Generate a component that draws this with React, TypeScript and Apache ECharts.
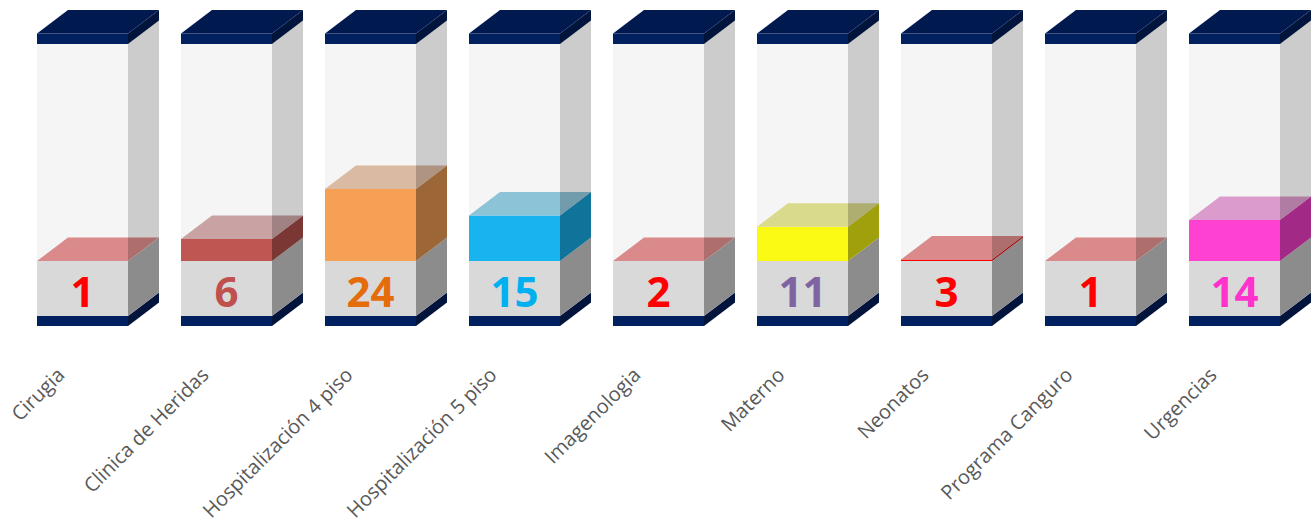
import React, { useEffect, useRef } from "react";
import * as echarts from "echarts";

const categories = [
  "Cirugia",
  "Clinica de Heridas",
  "Hospitalización 4 piso",
  "Hospitalización 5 piso",
  "Imagenologia",
  "Materno",
  "Neonatos",
  "Programa Canguro",
  "Urgencias",
];
const counts = [1, 6, 24, 15, 2, 11, 3, 1, 14];
const fillLevels = [0, 7.3, 24, 15.2, 0, 11.4, 0.5, 0, 13.7];
const capacity = 72.33;

const labelColors = ["#FF0000", "#C0504D", "#E46C0A", "#00B0F0", "#FF0000", "#8064A2", "#FF0000", "#FF0000", "#FF33CC"];
const fillFront = ["#D98A8A", "#C05652", "#F5A055", "#19B4F0", "#D98A8A", "#FAFA14", "#FF0000", "#D98A8A", "#FF41D2"];
const fillTop = ["#DA8A8A", "#C9A3A3", "#DABAA2", "#8CC3D7", "#DA8A8A", "#DADA8C", "#DA8A8A", "#DA8A8A", "#DC9BCD"];

function darken(hex: string, f: number) {
  const n = parseInt(hex.slice(1), 16);
  const r = Math.round(((n >> 16) & 255) * f);
  const g = Math.round(((n >> 8) & 255) * f);
  const b = Math.round((n & 255) * f);
  return `rgb(${r},${g},${b})`;
}

export default function App() {
  const ref = useRef<HTMLDivElement>(null);
  useEffect(() => {
    document.body.style.margin = "0";
    const chart = echarts.init(ref.current!, undefined, { renderer: "svg" });
    const W = 91, DX = 31, DY = 23.5, BOX = 55, BAND = 10, CAP = 10.5;
    const data = categories.map((c, i) => [i, fillLevels[i], counts[i]]);
    const renderItem = (params: any, api: any) => {
      const i = api.value(0);
      const fill = api.value(1);
      const cnt = api.value(2);
      const p0 = api.coord([i, 0]);
      const cx = p0[0];
      const y0 = p0[1];
      const yF = api.coord([i, fill])[1];
      const yT = api.coord([i, capacity])[1];
      const x0 = cx - W / 2;
      const x1 = cx + W / 2;
      const side = (yTop: number, yBot: number) => [
        [x1, yBot], [x1, yTop], [x1 + DX, yTop - DY], [x1 + DX, yBot - DY],
      ];
      const top = (y: number) => [
        [x0, y], [x1, y], [x1 + DX, y - DY], [x0 + DX, y - DY],
      ];
      const rect = (y: number, h: number, color: string) => ({
        type: "rect", shape: { x: x0, y, width: W, height: h }, style: { fill: color },
      });
      const poly = (pts: number[][], color: string) => ({
        type: "polygon", shape: { points: pts }, style: { fill: color },
      });
      const children: any[] = [
        rect(y0 + BOX, BAND, "#002060"),
        poly(side(y0 + BOX, y0 + BOX + BAND), "#00143C"),
        rect(y0, BOX, "#D9D9D9"),
        poly(side(y0, y0 + BOX), "#8C8C8C"),
        rect(yT, y0 - yT, "#F5F5F5"),
      ];
      if (y0 - yF > 0.1) {
        children.push(rect(yF, y0 - yF, fillFront[i]));
        children.push(poly(side(yF, y0), darken(fillFront[i], 0.8)));
      }
      children.push(poly(top(yF), fillTop[i]));
      children.push(poly(side(yT, y0), "rgba(0,0,0,0.2)"));
      children.push(rect(yT - CAP, CAP, "#002060"));
      children.push(poly(side(yT - CAP, yT), "#00143C"));
      children.push(poly(top(yT - CAP), "#001A50"));
      children.push({
        type: "text",
        style: {
          text: String(cnt),
          x: cx,
          y: y0 + BOX / 2 + 1.5,
          fill: labelColors[i],
          fontSize: 42,
          fontWeight: "bold",
          fontFamily: "Open Sans",
          align: "center",
          verticalAlign: "middle",
        },
      });
      return { type: "group", children };
    };
    chart.setOption({
      animation: false,
      grid: { left: 10.5, width: 1296, top: 44, bottom: 266, outerBoundsMode: "none", containLabel: false },
      xAxis: {
        type: "category",
        data: categories,
        axisLine: { show: false },
        axisTick: { show: false },
        splitLine: { show: false },
        axisLabel: {
          rotate: 45,
          interval: 0,
          margin: 88,
          padding: [0, 31, 0, 0],
          color: "#595959",
          fontSize: 20,
          fontFamily: "Open Sans",
        },
      },
      yAxis: { type: "value", min: 0, max: capacity, show: false },
      series: [
        {
          type: "custom",
          renderItem,
          data,
          encode: { x: 0, y: 1 },
          clip: false,
        },
      ],
    });
    return () => chart.dispose();
  }, []);
  return <div ref={ref} style={{ width: 1315, height: 527 }} />;
}
